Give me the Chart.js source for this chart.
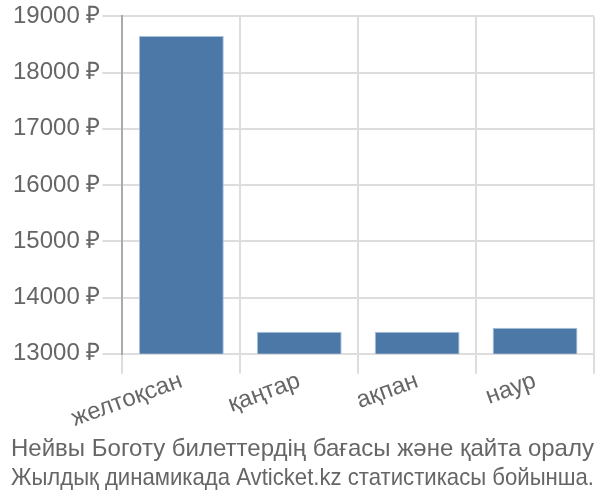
<!DOCTYPE html>
<html>
<head>
<meta charset="utf-8">
<script src="https://cdn.jsdelivr.net/npm/chart.js@4"></script>
<style>
  html, body { margin: 0; padding: 0; background: #fff; }
  #wrap { width: 600px; height: 500px; }
</style>
</head>
<body>
<div id="wrap"><canvas id="myChart" width="600" height="500"></canvas></div>
<script>
const months = ["желтоқсан", "қаңтар", "ақпан", "наур"];
const prices = [18650, 13390, 13390, 13460];
const titleLines = [
  "Нейвы Боготу билеттердің бағасы және қайта оралу",
  "Жылдық динамикада Avticket.kz статистикасы бойынша."
];

const ctx = document.getElementById("myChart").getContext("2d");
const chart = new Chart(ctx, {
  type: "bar",
  data: {
    labels: months,
    datasets: [
      {
        data: prices,
        backgroundColor: "#4c78a8",
        borderColor: "#a9c1dc",
        borderWidth: { top: 1, left: 1, right: 1, bottom: 0 }
      }
    ]
  },
  options: {
    responsive: false,
    animation: false,
    layout: { padding: { left: 11, right: 6, top: 2, bottom: 0 } },
    plugins: {
      legend: { display: false },
      tooltip: { enabled: false },
      title: {
        display: true,
        position: "bottom",
        text: titleLines,
        color: "#666",
        font: { family: "Liberation Sans", size: 24, weight: "normal" },
        padding: { top: 9, bottom: 7 }
      }
    },
    scales: {
      x: {
        grid: { color: "#dddddd", lineWidth: 2, tickLength: 20, offset: true },
        border: { color: "#dddddd", width: 2 },
        ticks: {
          color: "#666",
          padding: -7,
          font: { family: "Liberation Sans", size: 24 },
          minRotation: 20,
          maxRotation: 20
        }
      },
      y: {
        min: 13000,
        max: 19000,
        grid: { color: "#dddddd", lineWidth: 2, tickLength: 20 },
        border: { color: "#aaaaaa", width: 2 },
        ticks: {
          stepSize: 1000,
          color: "#666",
          padding: 2,
          font: { family: "Liberation Sans", size: 24 },
          callback: v => v + " ₽"
        }
      }
    }
  }
});
</script>
</body>
</html>
